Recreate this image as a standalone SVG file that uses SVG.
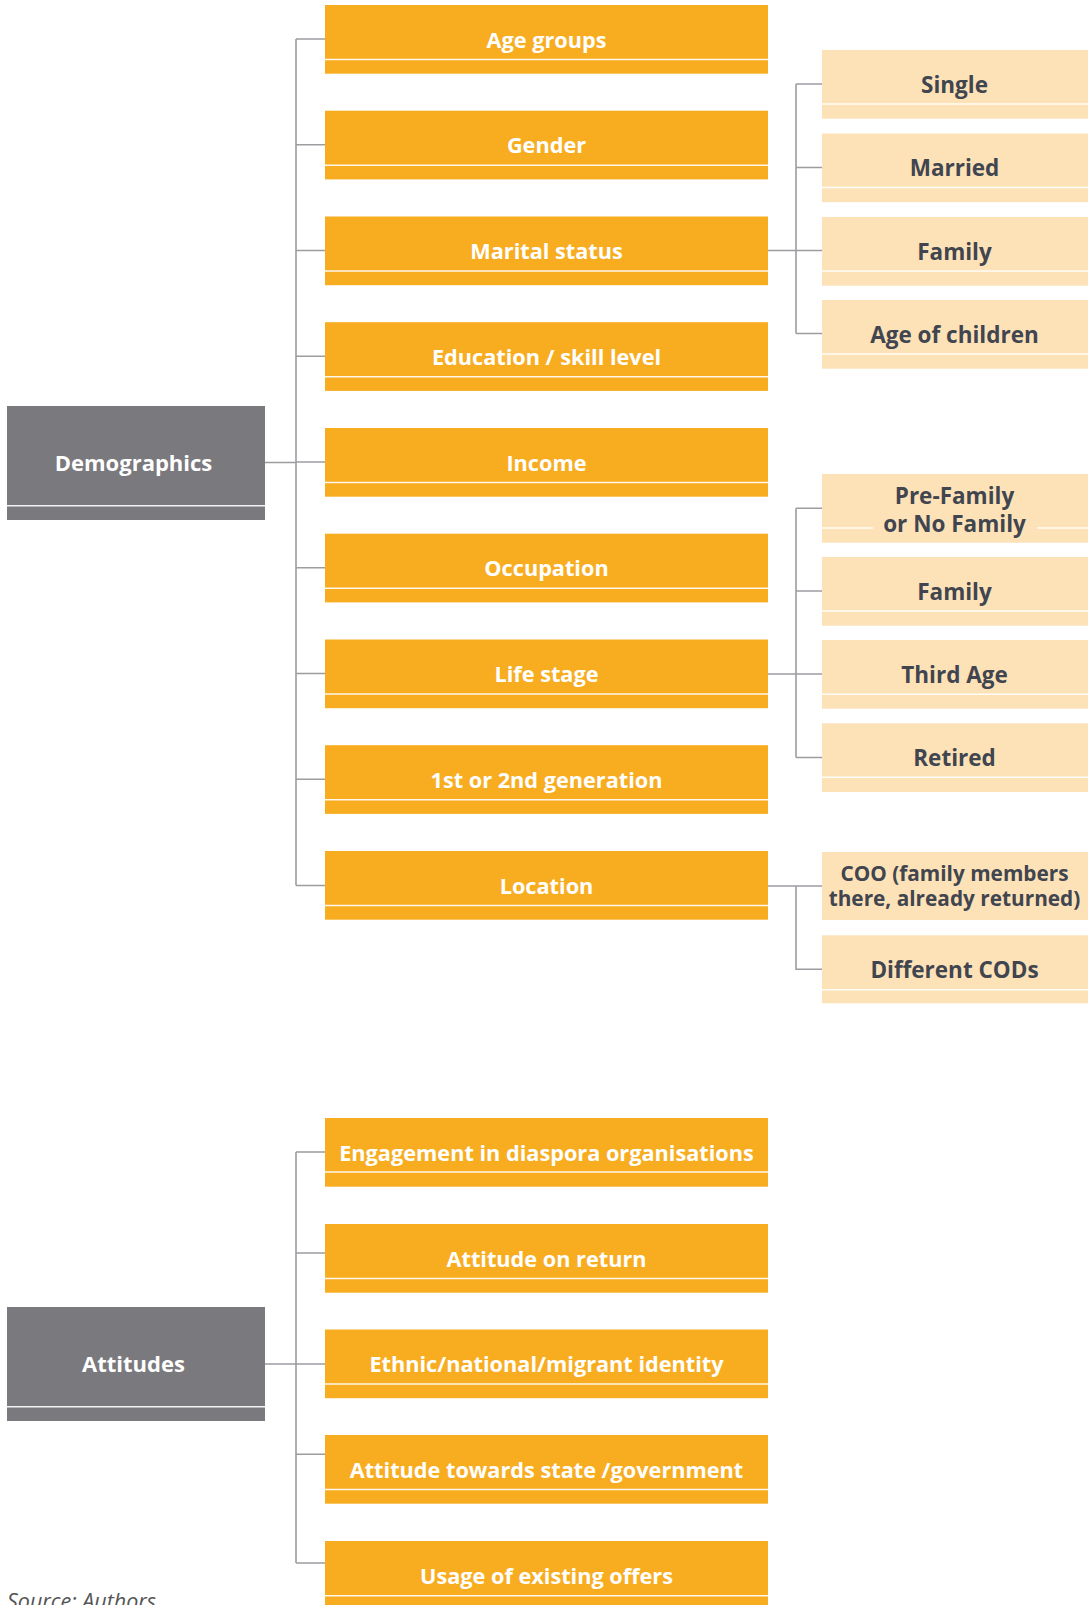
<svg xmlns="http://www.w3.org/2000/svg" width="1088" height="1605" viewBox="0 0 1088 1605">
<style>
.org{fill:#F8AD21}
.lt{fill:#FDE2B7}
.gr{fill:#7A797E}
.sep{stroke:#FFFFFF;stroke-width:1.6;stroke-opacity:0.9}
.t{font-family:"Open Sans","Noto Sans",sans-serif;font-weight:700;text-anchor:middle}
.tw{fill:#FFFFFF;font-size:21.7px}
.td{fill:#41454F;font-size:22.5px}
.tg{fill:#FFFFFF;font-size:22px}
.tc{fill:#41454F;font-size:20.8px}
.con{fill:none;stroke:#9D9CA1;stroke-width:1.6}
.src{font-family:"Open Sans","Noto Sans",sans-serif;font-style:italic;font-size:21.5px;fill:#555555}
</style>
<rect width="1088" height="1605" fill="#FFFFFF"/>
<g id="connectors">
<path class="con" d="M265,462.5H296M296,39V885.5M296,39H325M296,144.7H325M296,250.5H325M296,356.2H325M296,462H325M296,567.7H325M296,673.5H325M296,779.2H325M296,885.5H325"/>
<path class="con" d="M768,250.5H822M796,84V333.5M796,84H822M796,167.5H822M796,333.5H822"/>
<path class="con" d="M768,674H822M796,508.3V757.5M796,508.3H822M796,591H822M796,757.5H822"/>
<path class="con" d="M768,886H822M796,886V969.3H822"/>
<path class="con" d="M265,1364H296M296,1152V1563M296,1152H325M296,1253H325M296,1364H325M296,1454.3H325M296,1563H325"/>
</g>
<g id="demographics">
<rect class="gr" x="7" y="406" width="258" height="114"/>
<line class="sep" x1="7" y1="505.7" x2="265" y2="505.7"/>
<text class="t tg" x="133.5" y="470.7">Demographics</text>
</g>
<g id="age-groups">
<rect class="org" x="325" y="5" width="443" height="68.7"/>
<line class="sep" x1="325" y1="59.5" x2="768" y2="59.5"/>
<text class="t tw" x="546.5" y="47.5">Age groups</text>
</g>
<g id="gender">
<rect class="org" x="325" y="110.7" width="443" height="68.7"/>
<line class="sep" x1="325" y1="165.2" x2="768" y2="165.2"/>
<text class="t tw" x="546.5" y="153.2">Gender</text>
</g>
<g id="marital-status">
<rect class="org" x="325" y="216.5" width="443" height="68.7"/>
<line class="sep" x1="325" y1="271" x2="768" y2="271"/>
<text class="t tw" x="546.5" y="259">Marital status</text>
</g>
<g id="education">
<rect class="org" x="325" y="322.2" width="443" height="68.7"/>
<line class="sep" x1="325" y1="376.7" x2="768" y2="376.7"/>
<text class="t tw" x="546.5" y="364.7">Education / skill level</text>
</g>
<g id="income">
<rect class="org" x="325" y="428" width="443" height="68.7"/>
<line class="sep" x1="325" y1="482.5" x2="768" y2="482.5"/>
<text class="t tw" x="546.5" y="470.5">Income</text>
</g>
<g id="occupation">
<rect class="org" x="325" y="533.7" width="443" height="68.7"/>
<line class="sep" x1="325" y1="588.2" x2="768" y2="588.2"/>
<text class="t tw" x="546.5" y="576.2">Occupation</text>
</g>
<g id="life-stage">
<rect class="org" x="325" y="639.5" width="443" height="68.7"/>
<line class="sep" x1="325" y1="694" x2="768" y2="694"/>
<text class="t tw" x="546.5" y="682">Life stage</text>
</g>
<g id="generation">
<rect class="org" x="325" y="745.2" width="443" height="68.7"/>
<line class="sep" x1="325" y1="799.7" x2="768" y2="799.7"/>
<text class="t tw" x="546.5" y="787.7">1st or 2nd generation</text>
</g>
<g id="location">
<rect class="org" x="325" y="851" width="443" height="68.7"/>
<line class="sep" x1="325" y1="905.5" x2="768" y2="905.5"/>
<text class="t tw" x="546.5" y="893.5">Location</text>
</g>
<g id="single">
<rect class="lt" x="822" y="50" width="266" height="68.7"/>
<line class="sep" x1="822" y1="104" x2="1088" y2="104"/>
<text class="t td" x="954.5" y="92.7">Single</text>
</g>
<g id="married">
<rect class="lt" x="822" y="133.5" width="266" height="68.7"/>
<line class="sep" x1="822" y1="187.5" x2="1088" y2="187.5"/>
<text class="t td" x="954.5" y="176.2">Married</text>
</g>
<g id="family-1">
<rect class="lt" x="822" y="217" width="266" height="68.7"/>
<line class="sep" x1="822" y1="271" x2="1088" y2="271"/>
<text class="t td" x="954.5" y="259.7">Family</text>
</g>
<g id="age-of-children">
<rect class="lt" x="822" y="300" width="266" height="68.7"/>
<line class="sep" x1="822" y1="354" x2="1088" y2="354"/>
<text class="t td" x="954.5" y="342.7">Age of children</text>
</g>
<g id="pre-family">
<rect class="lt" x="822" y="474" width="266" height="68.7"/>
<line class="sep" x1="822" y1="528" x2="873" y2="528"/>
<line class="sep" x1="1037" y1="528" x2="1088" y2="528"/>
<text class="t td" x="954.5" y="504">Pre-Family</text>
<text class="t td" x="954.5" y="531.7">or No Family</text>
</g>
<g id="family-2">
<rect class="lt" x="822" y="557" width="266" height="68.7"/>
<line class="sep" x1="822" y1="611" x2="1088" y2="611"/>
<text class="t td" x="954.5" y="599.7">Family</text>
</g>
<g id="third-age">
<rect class="lt" x="822" y="640" width="266" height="68.7"/>
<line class="sep" x1="822" y1="694.3" x2="1088" y2="694.3"/>
<text class="t td" x="954.5" y="682.7">Third Age</text>
</g>
<g id="retired">
<rect class="lt" x="822" y="723.3" width="266" height="68.7"/>
<line class="sep" x1="822" y1="777.3" x2="1088" y2="777.3"/>
<text class="t td" x="954.5" y="766">Retired</text>
</g>
<g id="coo">
<rect class="lt" x="822" y="852" width="266" height="68"/>
<text class="t tc" x="954.5" y="881.2">COO (family members</text>
<text class="t tc" x="954.5" y="906">there, already returned)</text>
</g>
<g id="different-cods">
<rect class="lt" x="822" y="935.3" width="266" height="68"/>
<line class="sep" x1="822" y1="989.7" x2="1088" y2="989.7"/>
<text class="t td" x="954.5" y="978">Different CODs</text>
</g>
<g id="attitudes">
<rect class="gr" x="7" y="1307" width="258" height="114"/>
<line class="sep" x1="7" y1="1406.7" x2="265" y2="1406.7"/>
<text class="t tg" x="133.5" y="1371.7">Attitudes</text>
</g>
<g id="engagement">
<rect class="org" x="325" y="1118" width="443" height="68.7"/>
<line class="sep" x1="325" y1="1172" x2="768" y2="1172"/>
<text class="t tw" x="546.5" y="1160.5">Engagement in diaspora organisations</text>
</g>
<g id="attitude-on-return">
<rect class="org" x="325" y="1224" width="443" height="68.7"/>
<line class="sep" x1="325" y1="1278.5" x2="768" y2="1278.5"/>
<text class="t tw" x="546.5" y="1266.5">Attitude on return</text>
</g>
<g id="identity">
<rect class="org" x="325" y="1329.5" width="443" height="68.7"/>
<line class="sep" x1="325" y1="1384" x2="768" y2="1384"/>
<text class="t tw" x="546.5" y="1372">Ethnic/national/migrant identity</text>
</g>
<g id="attitude-state">
<rect class="org" x="325" y="1435" width="443" height="68.7"/>
<line class="sep" x1="325" y1="1489.5" x2="768" y2="1489.5"/>
<text class="t tw" x="546.5" y="1477.5">Attitude towards state /government</text>
</g>
<g id="usage">
<rect class="org" x="325" y="1541" width="443" height="68.7"/>
<line class="sep" x1="325" y1="1595.7" x2="768" y2="1595.7"/>
<text class="t tw" x="546.5" y="1583.5">Usage of existing offers</text>
</g>
<text class="src" x="7" y="1609">Source: Authors</text>
</svg>
